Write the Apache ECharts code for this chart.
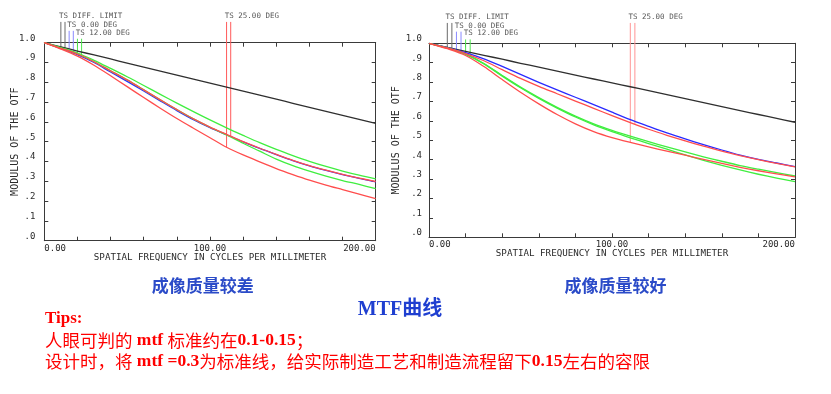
<!DOCTYPE html>
<html><head><meta charset="utf-8">
<script src="https://cdn.jsdelivr.net/npm/echarts@6/dist/echarts.min.js"></script>
<style>html,body{margin:0;padding:0;background:#fff}#c{width:831px;height:394px}</style>
</head><body><div id="c"></div>
<script>
// ---------- data ----------
const freq = [0,10,20,30,40,50,60,70,80,90,100,110,120,130,140,150,160,170,180,190,200];
const xTickLabels = ['0.00','100.00','200.00'];
const yTickLabels = ['.0','.1','.2','.3','.4','.5','.6','.7','.8','.9','1.0'];
const pointerTexts = ['TS DIFF. LIMIT','TS 0.00 DEG','TS 12.00 DEG','TS 25.00 DEG'];
const pointerFreqDiff = [10,12.5];
const pointerFreq0 = [15,17.5];
const pointerFreq12 = [20,22.5];
const pointerFreq25 = [110,112.5];

const diffLimit = [1.000,0.979,0.958,0.938,0.918,0.897,0.877,0.857,0.836,0.816,0.796,0.776,0.756,0.735,0.715,0.694,0.673,0.653,0.633,0.613,0.593];

// left chart (poor imaging quality)
const leftBlue0   = [1.000,0.971,0.940,0.900,0.852,0.805,0.756,0.706,0.657,0.611,0.571,0.535,0.499,0.466,0.435,0.405,0.378,0.355,0.334,0.315,0.297];
const leftGreenA  = [1.000,0.975,0.948,0.911,0.870,0.828,0.784,0.739,0.695,0.652,0.610,0.570,0.532,0.495,0.461,0.430,0.401,0.375,0.352,0.331,0.312];
const leftGreenB  = [1.000,0.972,0.943,0.904,0.858,0.812,0.762,0.711,0.662,0.615,0.573,0.534,0.492,0.452,0.412,0.379,0.351,0.326,0.304,0.284,0.263];
const leftRedA    = [1.000,0.972,0.943,0.904,0.858,0.812,0.762,0.711,0.662,0.615,0.574,0.537,0.500,0.467,0.436,0.406,0.379,0.356,0.335,0.316,0.299];
const leftRedB    = [1.000,0.968,0.932,0.886,0.833,0.778,0.723,0.669,0.617,0.568,0.520,0.472,0.433,0.398,0.364,0.334,0.306,0.281,0.258,0.235,0.213];

// right chart (good imaging quality)
const rightBlue0  = [1.000,0.978,0.952,0.920,0.881,0.840,0.799,0.760,0.722,0.684,0.645,0.607,0.572,0.538,0.507,0.478,0.450,0.424,0.402,0.383,0.364];
const rightGreenA = [1.000,0.976,0.944,0.896,0.834,0.774,0.720,0.670,0.625,0.585,0.551,0.521,0.493,0.466,0.440,0.415,0.392,0.370,0.351,0.333,0.316];
const rightGreenB = [1.000,0.975,0.943,0.894,0.831,0.771,0.716,0.666,0.620,0.580,0.545,0.513,0.483,0.454,0.425,0.397,0.371,0.347,0.325,0.305,0.287];
const rightRedA   = [1.000,0.976,0.947,0.910,0.864,0.819,0.778,0.740,0.702,0.665,0.627,0.591,0.557,0.526,0.497,0.470,0.444,0.421,0.400,0.381,0.363];
const rightRedB   = [1.000,0.972,0.937,0.880,0.813,0.748,0.688,0.633,0.585,0.545,0.514,0.489,0.466,0.444,0.423,0.402,0.381,0.361,0.343,0.327,0.311];

const captionLeft = '成像质量较差';
const captionRight = '成像质量较好';
const mainTitle = 'MTF曲线';

// ---------- helpers ----------
const pairs = vals => freq.map((f,i)=>[f, vals[i]]);
function interp(vals, f){
  for (let i=0;i<freq.length-1;i++){
    if (f>=freq[i] && f<=freq[i+1]){
      const t=(f-freq[i])/(freq[i+1]-freq[i]);
      return vals[i]+(vals[i+1]-vals[i])*t;
    }
  }
  return vals[vals.length-1];
}
const AX = '#3a3a3a';
const TXT = '#2a2a2a';
const MONO = "'DejaVu Sans Mono', monospace";
const COL = {black:'#2f2f2f', blue:'#2a2aff', green:'#40ee40', red:'#ff4d4d'};

function curve(g, vals, color, w){
  return {type:'line', xAxisIndex:g*2, yAxisIndex:g*2, data:pairs(vals), symbol:'none', smooth:0.3,
    lineStyle:{color, width:w||1.3, join:'round'}, silent:true, z:3};
}
function pointer(g, f, top, vals, color){
  return {type:'line', xAxisIndex:g*2, yAxisIndex:g*2, clip:false, symbol:'none', silent:true, z:2,
    lineStyle:{color, width:1}, data:[[f, top],[f, interp(vals,f)]]};
}
function pointerLabel(g, f, top, text){
  return {type:'scatter', xAxisIndex:g*2, yAxisIndex:g*2, clip:false, silent:true, symbolSize:1,
    itemStyle:{color:'rgba(0,0,0,0)'}, z:4,
    data:[{value:[f, top], label:{show:true, formatter:text, position:'top', distance:1.5, align:'left',
      offset:[-1.8,0], color:TXT, fontFamily:MONO, fontSize:7.5}}]};
}

function chartSeries(g, blue, gA, gB, rA, rB, redPtrColor){
  const s = [];
  const tops = [1.105, 1.06, 1.02, 1.105];
  s.push(pointer(g, pointerFreqDiff[0], tops[0], diffLimit, '#6a6a6a'));
  s.push(pointer(g, pointerFreqDiff[1], tops[0], diffLimit, '#6a6a6a'));
  s.push(pointer(g, pointerFreq0[0], tops[1], blue, '#8a8aff'));
  s.push(pointer(g, pointerFreq0[1], tops[1], blue, '#8a8aff'));
  s.push(pointer(g, pointerFreq12[0], tops[2], gA, '#50e850'));
  s.push(pointer(g, pointerFreq12[1], tops[2], gB, '#50e850'));
  s.push(pointer(g, pointerFreq25[0], tops[3], rB, redPtrColor));
  s.push(pointer(g, pointerFreq25[1], tops[3], rA, redPtrColor));
  s.push(curve(g, diffLimit, COL.black, 1.3));
  s.push(curve(g, blue, COL.blue));
  s.push(curve(g, gA, COL.green));
  s.push(curve(g, gB, COL.green));
  s.push(curve(g, rA, COL.red));
  s.push(curve(g, rB, COL.red));
  s.push(pointerLabel(g, pointerFreqDiff[0], tops[0], pointerTexts[0]));
  s.push(pointerLabel(g, pointerFreq0[0], tops[1], pointerTexts[1]));
  s.push(pointerLabel(g, pointerFreq12[0], tops[2], pointerTexts[2]));
  s.push(pointerLabel(g, pointerFreq25[0], tops[3], pointerTexts[3]));
  return s;
}

function axesFor(g, yNameGap, yLabelMargin){
  const tick = {show:true, inside:true, length:4, lineStyle:{color:AX, width:1}};
  const line = {show:true, onZero:false, lineStyle:{color:AX, width:1}};
  const xb = {gridIndex:g, type:'value', position:'bottom', min:0, max:200, interval:20,
    axisLine:line, axisTick:tick, splitLine:{show:false},
    axisLabel:{formatter:v=>{const i=[0,100,200].indexOf(Math.round(v)); return i>=0?xTickLabels[i]:'';},
      alignMinLabel:'left', alignMaxLabel:'right', color:TXT, fontFamily:MONO, fontSize:9, margin:3},
    name:'SPATIAL FREQUENCY IN CYCLES PER MILLIMETER', nameLocation:'middle', nameGap:12, nameMoveOverlap:false,
    nameTextStyle:{color:TXT, fontFamily:MONO, fontSize:9.2}};
  const xt = {gridIndex:g, type:'value', position:'top', min:0, max:200, interval:20,
    axisLine:line, axisTick:tick, splitLine:{show:false}, axisLabel:{show:false}};
  const yl = {gridIndex:g, type:'value', position:'left', min:0, max:1, interval:0.1,
    axisLine:line, axisTick:tick, splitLine:{show:false},
    axisLabel:{formatter:v=>yTickLabels[Math.round(v*10)], color:TXT, fontFamily:MONO, fontSize:9,
      margin:yLabelMargin, verticalAlign:'bottom'},
    name:'MODULUS OF THE OTF', nameLocation:'middle', nameRotate:90, nameGap:yNameGap, nameMoveOverlap:false,
    nameTextStyle:{color:TXT, fontFamily:MONO, fontSize:10}};
  const yr = {gridIndex:g, type:'value', position:'right', min:0, max:1, interval:0.1,
    axisLine:line, axisTick:tick, splitLine:{show:false}, axisLabel:{show:false}};
  return {x:[xb, xt], y:[yl, yr]};
}

const aL = axesFor(0, 24, 9);
const aR = axesFor(1, 27.5, 7);

const chart = echarts.init(document.getElementById('c'), null, {renderer:'canvas'});
chart.setOption({
  backgroundColor:'#ffffff',
  animation:false,
  grid:[
    {left:44.3, top:42.7, width:331.4, height:198, outerBoundsMode:'none', containLabel:false},
    {left:429, top:43.3, width:366, height:194, outerBoundsMode:'none', containLabel:false}
  ],
  xAxis:[...aL.x, ...aR.x],
  yAxis:[...aL.y, ...aR.y],
  series:[
    ...chartSeries(0, leftBlue0, leftGreenA, leftGreenB, leftRedA, leftRedB, '#ff5a5a'),
    ...chartSeries(1, rightBlue0, rightGreenA, rightGreenB, rightRedA, rightRedB, '#ff9494')
  ],
  graphic:[
    {type:'text', x:202.7, y:285.7, style:{text:captionLeft, fill:'#2b4bc8', font:"bold 17px 'Noto Sans CJK SC'", textAlign:'center', textVerticalAlign:'middle'}},
    {type:'text', x:615.5, y:285.7, style:{text:captionRight, fill:'#2b4bc8', font:"bold 17px 'Noto Sans CJK SC'", textAlign:'center', textVerticalAlign:'middle'}},
    {type:'text', x:400, y:310, style:{text:mainTitle, fill:'#1f3fd0', font:"bold 20px 'Liberation Serif','Noto Sans CJK SC'", textAlign:'center', textVerticalAlign:'middle'}},
    {type:'text', x:45, y:318.5, style:{text:'Tips:', fill:'#ff0000', font:"bold 17px 'Liberation Serif'", textAlign:'left', textVerticalAlign:'middle'}},
    {type:'text', x:45, y:340.5, style:{text:'人眼可判的{b| mtf }标准约在{b|0.1-0.15}；', fill:'#ff0000',
      font:"17.5px 'Noto Sans CJK SC'", textAlign:'left', textVerticalAlign:'middle',
      rich:{b:{fill:'#ff0000', font:"bold 17.5px 'Liberation Serif'"}}}},
    {type:'text', x:45, y:361, style:{text:'设计时，将{b| mtf =0.3}为标准线，给实际制造工艺和制造流程留下{b|0.15}左右的容限', fill:'#ff0000',
      font:"17.5px 'Noto Sans CJK SC'", textAlign:'left', textVerticalAlign:'middle',
      rich:{b:{fill:'#ff0000', font:"bold 17.5px 'Liberation Serif'"}}}}
  ]
});
</script></body></html>
